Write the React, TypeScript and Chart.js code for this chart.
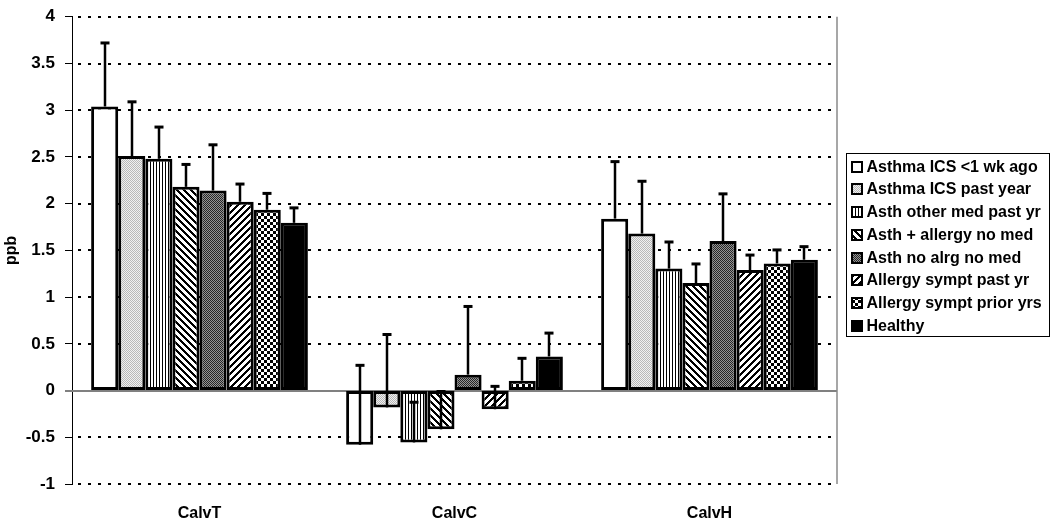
import React, { useEffect, useRef } from 'react';
import { Chart, registerables } from 'chart.js';

Chart.register(...registerables);

// ---- data ----
const categories = ['CalvT', 'CalvC', 'CalvH'];

const seriesNames = [
  'Asthma ICS <1 wk ago',
  'Asthma ICS past year',
  'Asth other med past yr',
  'Asth + allergy no med',
  'Asth no alrg no med',
  'Allergy sympt past yr',
  'Allergy sympt prior yrs',
  'Healthy',
];

// mean values per category (CalvT, CalvC, CalvH)
const icsRecent = [3.04, -0.58, 1.84];
const icsPastYear = [2.51, -0.18, 1.68];
const otherMed = [2.48, -0.555, 1.305];
const asthAllergy = [2.18, -0.415, 1.15];
const asthNoAlrg = [2.14, 0.17, 1.6];
const allergyPast = [2.02, -0.2, 1.29];
const allergyPrior = [1.935, 0.105, 1.36];
const healthy = [1.795, 0.365, 1.4];

// upper error (plus) per category
const icsRecentErr = [0.68, 0.85, 0.61];
const icsPastYearErr = [0.58, 0.78, 0.56];
const otherMedErr = [0.34, 0.43, 0.285];
const asthAllergyErr = [0.24, 0.405, 0.205];
const asthNoAlrgErr = [0.49, 0.73, 0.505];
const allergyPastErr = [0.19, 0.245, 0.16];
const allergyPriorErr = [0.175, 0.24, 0.145];
const healthyErr = [0.16, 0.25, 0.14];

const seriesValues = [icsRecent, icsPastYear, otherMed, asthAllergy, asthNoAlrg, allergyPast, allergyPrior, healthy];
const seriesErrors = [icsRecentErr, icsPastYearErr, otherMedErr, asthAllergyErr, asthNoAlrgErr, allergyPastErr, allergyPriorErr, healthyErr];

const yMin = -1;
const yMax = 4;
const yStep = 0.5;
const yTickLabels = ['-1', '-0.5', '0', '0.5', '1', '1.5', '2', '2.5', '3', '3.5', '4'];
const yTitle = 'ppb';

const FONT = "'Liberation Sans', Arial, sans-serif";

function makePattern(size: number, fn: (x: number, y: number) => string): CanvasPattern | string {
  const c = document.createElement('canvas');
  c.width = size;
  c.height = size;
  const g = c.getContext('2d')!;
  for (let y = 0; y < size; y++) {
    for (let x = 0; x < size; x++) {
      g.fillStyle = fn(x, y);
      g.fillRect(x, y, 1, 1);
    }
  }
  const p = g.createPattern(c, 'repeat');
  return p || '#888';
}

function makeFills(): (CanvasPattern | string)[] {
  return [
    '#ffffff',
    makePattern(2, (x, y) => ((x + y) % 2 === 0 ? '#b8b8b8' : '#f0f0f0')),
    makePattern(3, (x) => (x % 3 === 0 ? '#000000' : '#ffffff')),
    makePattern(7, (x, y) => (((x - y) % 7 + 7) % 7 < 3 ? '#000000' : '#ffffff')),
    makePattern(2, (x, y) => ((x + y) % 2 === 0 ? '#262626' : '#959595')),
    makePattern(7, (x, y) => ((x + y) % 7 < 3 ? '#000000' : '#ffffff')),
    makePattern(6, (x, y) => ((Math.floor(x / 3) + Math.floor(y / 3)) % 2 === 0 ? '#000000' : '#ffffff')),
    '#000000',
  ];
}

export default function App() {
  const ref = useRef<HTMLCanvasElement>(null);

  useEffect(() => {
    document.body.style.margin = '0';
    const canvas = ref.current!;
    const fills = makeFills();

    const gridPlugin = {
      id: 'excelGrid',
      beforeDatasetsDraw(chart: any) {
        const { ctx, chartArea: a, scales } = chart;
        const y = scales.y;
        ctx.save();
        ctx.lineWidth = 2;
        ctx.strokeStyle = '#000';
        ctx.setLineDash([3, 7]);
        y.ticks.forEach((t: any) => {
          if (t.value === 0) return;
          const py = Math.round(y.getPixelForValue(t.value));
          ctx.beginPath();
          ctx.moveTo(a.left + 6, py);
          ctx.lineTo(a.right, py);
          ctx.stroke();
        });
        ctx.setLineDash([]);
        const z = Math.round(y.getPixelForValue(0));
        ctx.strokeStyle = '#808080';
        ctx.lineWidth = 2;
        ctx.beginPath();
        ctx.moveTo(a.left - 7, z);
        ctx.lineTo(a.right, z);
        ctx.stroke();
        ctx.lineWidth = 1.5;
        ctx.strokeStyle = '#8a8a8a';
        ctx.beginPath();
        ctx.moveTo(a.right, a.top);
        ctx.lineTo(a.right, a.bottom);
        ctx.stroke();
        ctx.restore();
      },
    };

    const errorPlugin = {
      id: 'errorBars',
      afterDatasetsDraw(chart: any) {
        const { ctx, scales } = chart;
        const y = scales.y;
        ctx.save();
        ctx.strokeStyle = '#000';
        chart.data.datasets.forEach((ds: any, di: number) => {
          const meta = chart.getDatasetMeta(di);
          meta.data.forEach((el: any, i: number) => {
            const v = ds.data[i];
            const e = seriesErrors[di][i];
            const x = Math.round(el.x);
            const y0 = y.getPixelForValue(v);
            const y1 = y.getPixelForValue(v + e);
            ctx.lineWidth = 2.5;
            ctx.beginPath();
            ctx.moveTo(x, y0);
            ctx.lineTo(x, y1);
            ctx.stroke();
            ctx.lineWidth = 3;
            ctx.beginPath();
            ctx.moveTo(x - 4.5, y1);
            ctx.lineTo(x + 4.5, y1);
            ctx.stroke();
          });
        });
        ctx.restore();
      },
    };

    const legendPlugin = {
      id: 'boxLegend',
      afterDraw(chart: any) {
        const { ctx, chartArea: a } = chart;
        const left = a.right + 9.5;
        const top = 153.5;
        const w = 203;
        const rowH = 22.75;
        const h = rowH * seriesNames.length + 1;
        ctx.save();
        ctx.fillStyle = '#fff';
        ctx.fillRect(left, top, w, h);
        ctx.strokeStyle = '#000';
        ctx.lineWidth = 1;
        ctx.strokeRect(left, top, w, h);
        ctx.font = `bold 16px ${FONT}`;
        ctx.textBaseline = 'middle';
        ctx.textAlign = 'left';
        seriesNames.forEach((name, i) => {
          const cy = Math.round(top + 13 + i * rowH);
          const bx = Math.round(left + 4);
          ctx.fillStyle = fills[i];
          ctx.fillRect(bx, cy - 6, 12, 12);
          ctx.lineWidth = 2;
          ctx.strokeStyle = '#000';
          ctx.strokeRect(bx + 1, cy - 5, 10, 10);
          ctx.fillStyle = '#000';
          ctx.fillText(name, left + 20, cy + 1);
        });
        ctx.restore();
      },
    };

    const chart = new Chart(canvas, {
      type: 'bar',
      data: {
        labels: categories,
        datasets: seriesNames.map((name, i) => ({
          label: name,
          data: seriesValues[i],
          backgroundColor: fills[i] as any,
          borderColor: '#000',
          borderWidth: 3,
          borderSkipped: false,
          categoryPercentage: 0.85,
          barPercentage: 1.0,
        })),
      },
      options: {
        responsive: false,
        animation: false,
        layout: { padding: { top: 7, right: 213, bottom: 0, left: 0 } },
        plugins: {
          legend: { display: false },
          tooltip: { enabled: false },
        },
        scales: {
          x: {
            grid: { display: false },
            border: { display: false },
            ticks: {
              color: '#000',
              font: { family: FONT, size: 16, weight: 'bold' },
              padding: 12,
              maxRotation: 0,
            },
            afterFit(scale: any) {
              scale.height = 34;
            },
          },
          y: {
            min: yMin,
            max: yMax,
            ticks: {
              stepSize: yStep,
              color: '#000',
              font: { family: FONT, size: 17, weight: 'bold', lineHeight: 0.8 },
              padding: 10,
              callback: (_v: any, i: number) => yTickLabels[i],
            },
            grid: {
              drawOnChartArea: false,
              drawTicks: true,
              tickLength: 7,
              tickColor: '#000',
              tickWidth: 1,
            },
            border: { display: true, color: '#000', width: 1 },
            title: {
              display: true,
              text: yTitle,
              color: '#000',
              font: { family: FONT, size: 16, weight: 'bold' },
              padding: { top: 2, bottom: 0 },
            },
            afterFit(scale: any) {
              scale.width = 72;
            },
          },
        },
      },
      plugins: [gridPlugin, errorPlugin, legendPlugin],
    });

    return () => chart.destroy();
  }, []);

  return (
    <div style={{ width: 1050, height: 518 }}>
      <canvas ref={ref} width={1050} height={518} style={{ display: 'block' }} />
    </div>
  );
}
